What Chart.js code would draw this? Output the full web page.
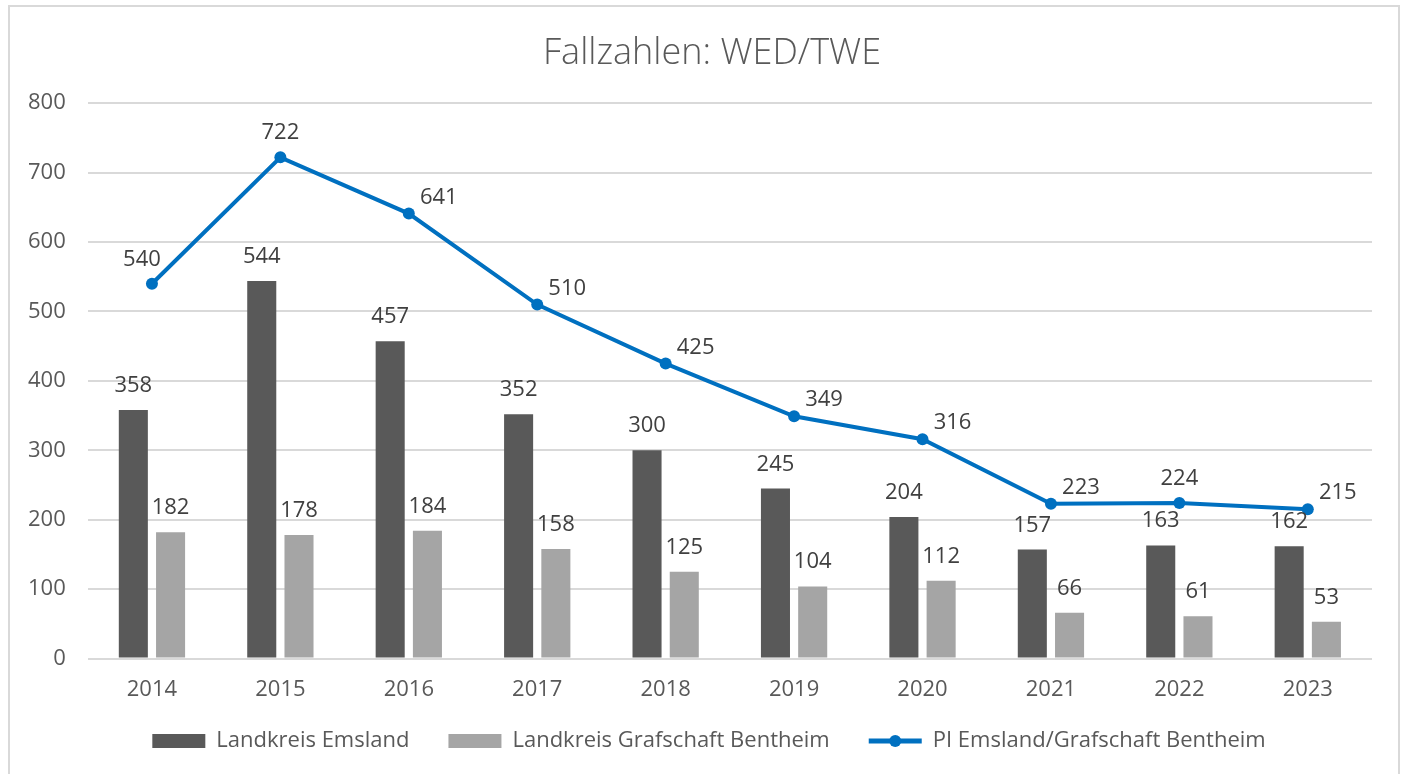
<!DOCTYPE html>
<html>
<head>
<meta charset="utf-8">
<script src="https://cdn.jsdelivr.net/npm/chart.js@4.4.1/dist/chart.umd.min.js"></script>
<style>
    body { margin: 0; background: #fff; }
    #frame {
        position: absolute; left: 8px; top: 5px;
        width: 1388px; height: 768px;
        border: 2px solid #d9d9d9;
    }
</style>
</head>
<body>
<div id="frame"><canvas id="chart"></canvas></div>
<script>
// Jahre und Fallzahlen
const years = ['2014', '2015', '2016', '2017', '2018', '2019', '2020', '2021', '2022', '2023'];
const emsland = [358, 544, 457, 352, 300, 245, 204, 157, 163, 162];
const bentheim = [182, 178, 184, 158, 125, 104, 112, 66, 61, 53];
const piTotal = [540, 722, 641, 510, 425, 349, 316, 223, 224, 215];
const yTicks = [0, 100, 200, 300, 400, 500, 600, 700, 800];

const FONT = "'Open Sans', 'Noto Sans', sans-serif";
const TEXT = '#595959';

// draws the value labels above bars and line points
const valueLabels = {
    id: 'valueLabels',
    afterDatasetsDraw(chart) {
        const ctx = chart.ctx;
        ctx.save();
        ctx.font = '22px ' + FONT;
        ctx.fillStyle = '#404040';
        ctx.textAlign = 'center';
        ctx.textBaseline = 'alphabetic';
        chart.data.datasets.forEach((ds, i) => {
            const meta = chart.getDatasetMeta(i);
            meta.data.forEach((el, j) => {
                const v = ds.data[j];
                if (ds.type === 'line') {
                    const prev = ds.data[j - 1];
                    let dx = 0, dy = -18;
                    if (j === 0) dx = -10;
                    else if (prev > v) { dx = 30; dy = -10; }
                    ctx.fillText(v, el.x + dx, el.y + dy);
                } else {
                    ctx.fillText(v, el.x, el.y - 18);
                }
            });
        });
        ctx.restore();
    }
};

// marker dot on the line legend entry, title and legend nudged to the middle of the frame
const legendMarker = {
    id: 'legendMarker',
    afterLayout(chart) {
        if (chart.titleBlock) {
            chart.titleBlock.left += 23;
            chart.titleBlock.right += 23;
        }
        if (chart.legend) {
            chart.legend.left += 20;
            chart.legend.right += 20;
        }
    },
    afterDraw(chart) {
        const legend = chart.legend;
        const box = legend.legendHitBoxes[2];
        if (!box) return;
        const ctx = chart.ctx;
        ctx.save();
        ctx.fillStyle = '#0070c0';
        ctx.beginPath();
        ctx.arc(box.left + 53 / 2, box.top + box.height / 2, 6, 0, Math.PI * 2);
        ctx.fill();
        ctx.restore();
    }
};

const chart = new Chart(document.getElementById('chart'), {
    data: {
        labels: years,
        datasets: [
            {
                type: 'bar',
                label: 'Landkreis Emsland',
                data: emsland,
                backgroundColor: '#595959',
                borderColor: '#595959',
                categoryPercentage: 0.58,
                barPercentage: 0.78
            },
            {
                type: 'bar',
                label: 'Landkreis Grafschaft Bentheim',
                data: bentheim,
                backgroundColor: '#a5a5a5',
                borderColor: '#a5a5a5',
                categoryPercentage: 0.58,
                barPercentage: 0.78
            },
            {
                type: 'line',
                label: 'PI Emsland/Grafschaft Bentheim',
                data: piTotal,
                borderColor: '#0070c0',
                backgroundColor: '#0070c0',
                borderWidth: 4,
                pointRadius: 6,
                pointHoverRadius: 6,
                pointBackgroundColor: '#0070c0',
                pointBorderWidth: 0,
                order: -1
            }
        ]
    },
    options: {
        responsive: true,
        maintainAspectRatio: false,
        animation: false,
        layout: { padding: { left: -4, right: 26, top: 0, bottom: 13 } },
        plugins: {
            tooltip: { enabled: false },
            title: {
                display: true,
                text: 'Fallzahlen: WED/TWE',
                color: TEXT,
                font: { family: FONT, size: 36, weight: '300' },
                padding: { top: 25, bottom: 28 }
            },
            legend: {
                position: 'bottom',
                labels: {
                    usePointStyle: true,
                    pointStyleWidth: 53,
                    boxHeight: 14,
                    padding: 17,
                    color: TEXT,
                    font: { family: FONT, size: 22 },
                    generateLabels: (c) => c.data.datasets.map((ds, i) => ({
                        text: i < 2 ? ds.label + '\u2003' : ds.label,
                        fillStyle: ds.backgroundColor,
                        strokeStyle: ds.borderColor,
                        lineWidth: ds.type === 'line' ? 5 : 0,
                        pointStyle: ds.type === 'line' ? 'line' : 'rect',
                        fontColor: TEXT,
                        hidden: false,
                        datasetIndex: i
                    }))
                }
            }
        },
        scales: {
            x: {
                grid: { display: false },
                border: { display: false },
                ticks: { color: TEXT, font: { family: FONT, size: 22 }, padding: 10 }
            },
            y: {
                min: 0,
                max: 800,
                afterBuildTicks: (axis) => { axis.ticks = yTicks.map(v => ({ value: v })); },
                grid: { color: '#d9d9d9', lineWidth: 2, drawTicks: false },
                border: { display: false },
                ticks: { color: TEXT, font: { family: FONT, size: 22 }, padding: 22 }
            }
        }
    },
    plugins: [valueLabels, legendMarker]
});
</script>
</body>
</html>
